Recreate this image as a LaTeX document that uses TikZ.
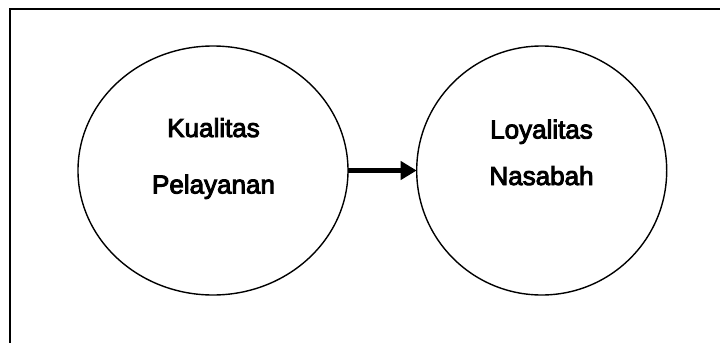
\documentclass[tikz,border=0pt]{standalone}
\usepackage{fontspec}
\setmainfont{Liberation Sans}
% heavier regular face for the variable names
\newfontfamily\varfont{Liberation Sans}[FakeBold=3.6]
\usetikzlibrary{shapes.geometric,arrows.meta}
\begin{document}
\begin{tikzpicture}[x=1pt,y=-1pt,
  var/.style={draw,ellipse,line width=1.4pt,inner sep=0pt,outer sep=0pt},
  lbl/.style={anchor=base,inner sep=0pt,font=\varfont\fontsize{26}{30}\selectfont},
  arr/.style={line width=5.5pt,-{Triangle[length=16pt,width=18pt]}},
  frame/.style={line width=2.3pt}]
\useasboundingbox (0,0) rectangle (720,343);
% partial outer frame
\coordinate (fTR) at (720,9);
\coordinate (fTL) at (10,9);
\coordinate (fBL) at (10,343);
\draw[frame] (fTR) -- (fTL) -- (fBL);
% variables
\node[var,minimum width=270pt,minimum height=249pt] (kp) at (213,170.5) {};
\node[var,minimum width=250pt,minimum height=249pt] (ln) at (541.7,170.5) {};
\node[lbl] (kp1) at (213.5,137) {Kualitas};
\node[lbl] (kp2) at (213.5,193.5) {Pelayanan};
\node[lbl] (ln1) at (541.5,138.5) {Loyalitas};
\node[lbl] (ln2) at (541.5,185) {Nasabah};
% relation
\draw[arr] (kp.east) -- (ln.west);
\end{tikzpicture}
\end{document}
